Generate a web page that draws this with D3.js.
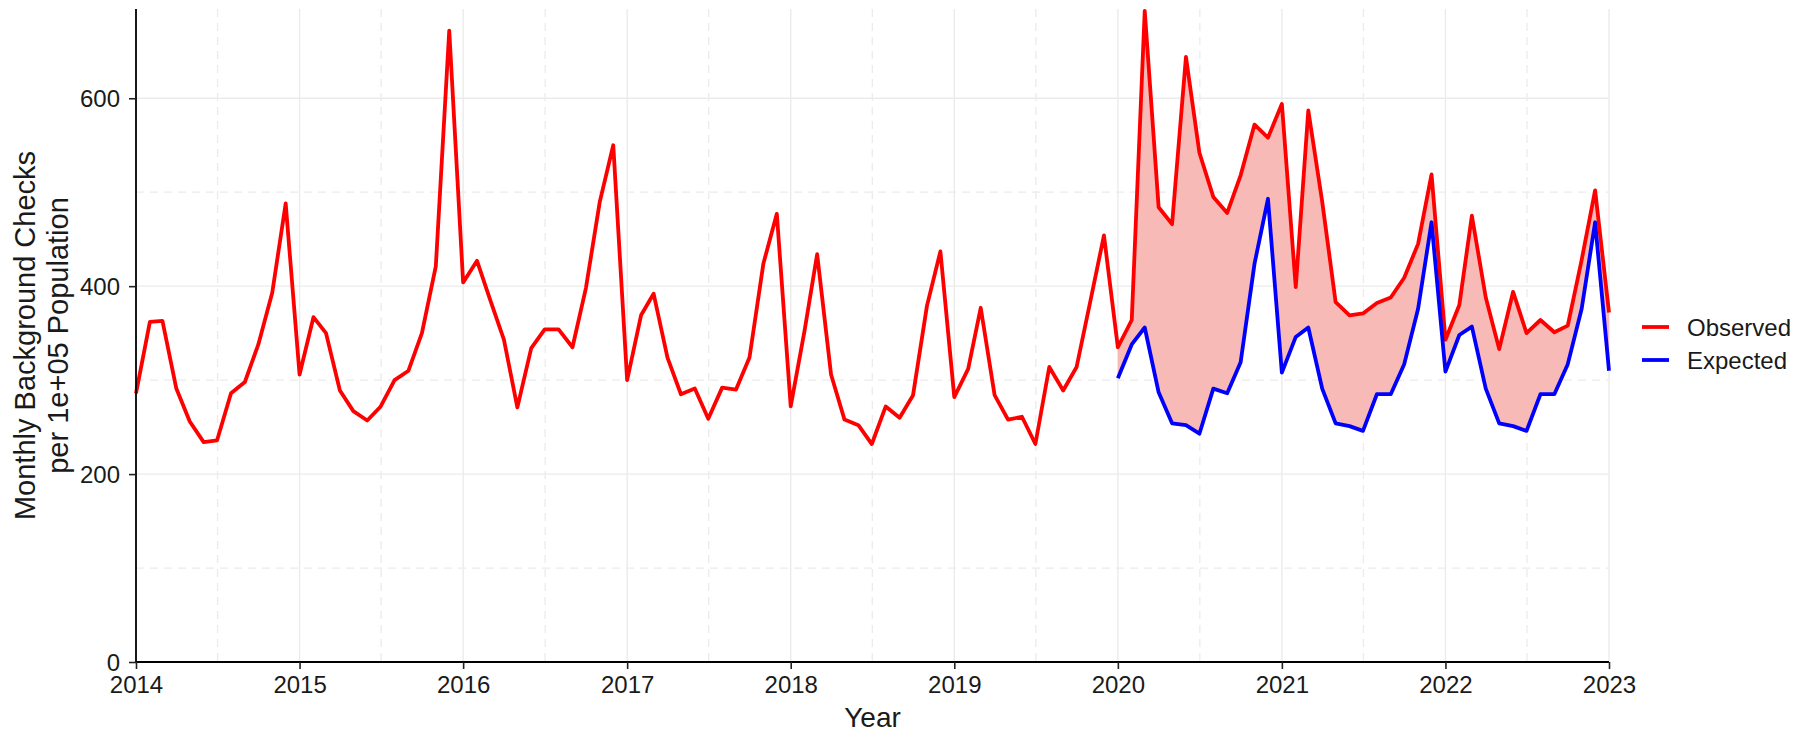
<!DOCTYPE html>
<html><head><meta charset="utf-8">
<script src="https://cdn.jsdelivr.net/npm/d3@7"></script>
<style>body{margin:0;background:#fff}text{font-family:"Liberation Sans",Arial,Helvetica,sans-serif;fill:#1a1a1a}</style>
</head><body>
<svg id="c" width="1809" height="732"></svg>
<script>
// ---- data (monthly, per 1e+05 population) ----
const observed = [
  286,362,363,291,256,234,236,286,298,338,393,488,   // 2014
  306,367,350,289,267,257,272,300,310,350,421,672,   // 2015
  404,427,386,343,271,334,354,354,335,398,490,550,   // 2016
  300,369,392,324,285,291,259,292,290,324,424,477,   // 2017
  272,353,434,306,258,252,232,272,260,284,379,437,   // 2018
  282,312,377,284,258,261,232,314,289,314,385,454,   // 2019
  335,364,693,484,466,644,542,495,478,518,572,558,   // 2020
  594,399,587,490,383,369,371,382,388,409,445,519,   // 2021
  343,380,475,388,333,394,350,364,351,358,428,502,   // 2022
  372                                                // 2023
];
const expected = [
  302,338,356,287,254,252,243,291,286,319,424,493,   // 2020
  308,346,356,291,254,251,246,285,285,317,376,468,   // 2021
  309,348,357,291,254,251,246,285,285,317,376,468,   // 2022
  310                                                // 2023
];
const observedStartYear = 2014;
const expectedStartYear = 2020;
const yearTicks = [2014,2015,2016,2017,2018,2019,2020,2021,2022,2023];
const yTicks = [0,200,400,600];
const yMinorTicks = [100,300,500];
const seriesNames = ["Observed","Expected"];
const seriesColors = ["#ff0000","#0000ff"];
const xTitle = "Year";
const yTitleLines = ["Monthly Background Checks","per 1e+05 Population"];

// ---- build ----
const mDate = (y0,i) => new Date(Date.UTC(y0, i, 1));
const obsData = observed.map((v,i)=>({d:mDate(observedStartYear,i), v}));
const expData = expected.map((v,i)=>({d:mDate(expectedStartYear,i), v}));
const offset = (expectedStartYear-observedStartYear)*12;
const ribbon = expected.map((v,i)=>({d:mDate(expectedStartYear,i), lo:v, hi:observed[offset+i]}));

const L=136, R=1609, T=9, B=662;
const svg = d3.select("#c");
svg.append("rect").attr("width",1809).attr("height",732).attr("fill","#fff");

const x = d3.scaleUtc().domain([mDate(yearTicks[0],0), mDate(yearTicks[yearTicks.length-1],0)]).range([L,R]);
const y = d3.scaleLinear().domain([0,695]).range([B,T]);

const grid = svg.append("g");
// minor
grid.selectAll(".hmin").data(yMinorTicks).join("line")
  .attr("x1",L).attr("x2",R).attr("y1",d=>y(d)).attr("y2",d=>y(d))
  .attr("stroke","#ebebeb").attr("stroke-width",1.3).attr("stroke-dasharray","8,6");
grid.selectAll(".vmin").data(yearTicks.slice(0,-1)).join("line")
  .attr("x1",d=>x(new Date(Date.UTC(d,6,2)))).attr("x2",d=>x(new Date(Date.UTC(d,6,2))))
  .attr("y1",T).attr("y2",B)
  .attr("stroke","#ebebeb").attr("stroke-width",1.3).attr("stroke-dasharray","8,6");
// major
grid.selectAll(".hmaj").data(yTicks).join("line")
  .attr("x1",L).attr("x2",R).attr("y1",d=>y(d)).attr("y2",d=>y(d))
  .attr("stroke","#ebebeb").attr("stroke-width",1.4);
grid.selectAll(".vmaj").data(yearTicks).join("line")
  .attr("x1",d=>x(mDate(d,0))).attr("x2",d=>x(mDate(d,0)))
  .attr("y1",T).attr("y2",B)
  .attr("stroke","#ebebeb").attr("stroke-width",1.4);

// ribbon
svg.append("path").datum(ribbon)
  .attr("d", d3.area().x(d=>x(d.d)).y0(d=>y(d.lo)).y1(d=>y(d.hi)))
  .attr("fill","#f8bab6");

const line = d3.line().x(d=>x(d.d)).y(d=>y(d.v));
svg.append("path").datum(obsData).attr("d",line)
  .attr("fill","none").attr("stroke",seriesColors[0]).attr("stroke-width",3.8).attr("stroke-linejoin","round");
svg.append("path").datum(expData).attr("d",line)
  .attr("fill","none").attr("stroke",seriesColors[1]).attr("stroke-width",3.8).attr("stroke-linejoin","round");

// axes
const xAxis = svg.append("g").attr("transform",`translate(0,${B})`)
  .call(d3.axisBottom(x).tickValues(yearTicks.map(yr=>mDate(yr,0))).tickFormat(d3.utcFormat("%Y")).tickSize(7).tickPadding(7));
const yAxis = svg.append("g").attr("transform",`translate(${L},0)`)
  .call(d3.axisLeft(y).tickValues(yTicks).tickFormat(d3.format("d")).tickSize(7).tickPadding(9));
[xAxis,yAxis].forEach(g=>{
  g.select(".domain").attr("stroke","#000").attr("stroke-width",1.8);
  g.selectAll(".tick line").attr("stroke","#222").attr("stroke-width",1.6);
  g.selectAll(".tick text").attr("font-size",24).attr("fill","#1a1a1a")
    .style("font-family",'"Liberation Sans",Arial,sans-serif');
});
xAxis.select(".domain").attr("d",`M${L},0H${R}`);
yAxis.select(".domain").attr("d",`M0,${B}V${T}`);
yAxis.selectAll(".tick text").attr("dy","0.36em");
xAxis.selectAll(".tick text").attr("dy","0.72em");

// titles
svg.append("text").attr("x",(L+R)/2).attr("y",727).attr("text-anchor","middle")
  .attr("font-size",28).text(xTitle);
const yt = svg.append("text").attr("transform",`translate(0,${(T+B)/2}) rotate(-90)`)
  .attr("text-anchor","middle").attr("font-size",29);
yt.append("tspan").attr("x",0).attr("y",35).text(yTitleLines[0]);
yt.append("tspan").attr("x",0).attr("y",68).text(yTitleLines[1]);

// legend
const lg = svg.append("g");
seriesNames.forEach((n,i)=>{
  const cy = 327 + i*33;
  lg.append("line").attr("x1",1642).attr("x2",1669).attr("y1",cy).attr("y2",cy)
    .attr("stroke",seriesColors[i]).attr("stroke-width",3.8);
  lg.append("text").attr("x",1687).attr("y",cy+9).attr("font-size",24).text(n);
});
</script>
</body></html>
